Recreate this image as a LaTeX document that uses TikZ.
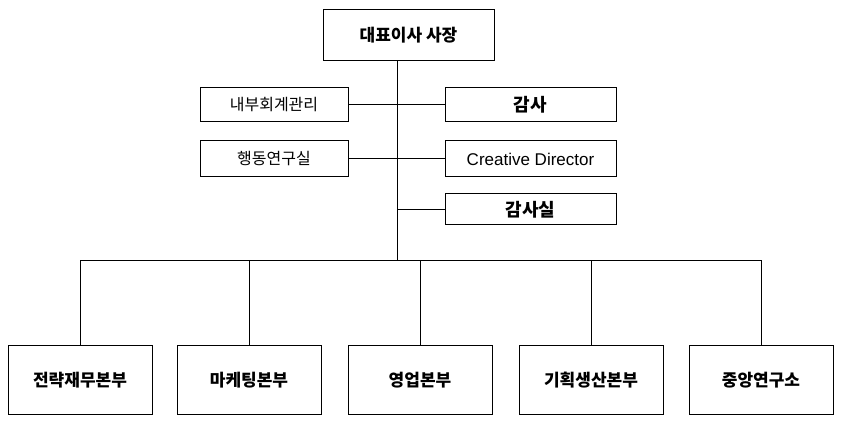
\documentclass[tikz,border=0pt]{standalone}
\usepackage{fontspec}
\newfontfamily\kor{Noto Sans CJK KR}
\setmainfont{Liberation Sans}
\begin{document}
\begin{tikzpicture}[x=1pt,y=-1pt,
  box/.style={draw, line width=1pt, inner sep=0pt, font=\kor\bfseries\fontsize{16}{18}\selectfont},
  line/.style={line width=1pt}]
\useasboundingbox (0,0) rectangle (846,422);
\node[box, minimum width=171pt, minimum height=51pt, font=\kor\bfseries\fontsize{17}{19}\selectfont] (ceo) at (408.5,35.5) {대표이사 사장};

\node[box, minimum width=148pt, minimum height=34pt, font=\kor\fontsize{16}{18}\selectfont] (acct) at (274,105) {내부회계관리};
\node[box, minimum width=148pt, minimum height=36pt, font=\kor\fontsize{16}{18}\selectfont] (behav) at (274,159) {행동연구실};
\node[box, minimum width=171pt, minimum height=34pt, font=\kor\bfseries\fontsize{18}{20}\selectfont] (audit) at (530.5,105) {감사};
\node[box, minimum width=171pt, minimum height=36pt, font=\fontsize{17}{19}\selectfont] (cd) at (530.5,159) {Creative Director};
\node[box, minimum width=171pt, minimum height=31pt, font=\kor\bfseries\fontsize{18}{20}\selectfont] (office) at (530.5,209.5) {감사실};

\coordinate (bar) at (397,260);
\draw[line] (ceo.south -| bar) -- (bar);
\draw[line] (acct) -- (audit);
\draw[line] (behav) -- (cd);
\draw[line] (office.west) -- (office.west -| bar);

\foreach \name/\cx/\txt in {strat/80/전략재무본부, mkt/249/마케팅본부, sales/420/영업본부, plan/591/기획생산본부, lab/761/중앙연구소}{
  \node[box, minimum width=144pt, minimum height=69pt, font=\kor\bfseries\fontsize{17}{19}\selectfont] (\name) at (\cx,380) {\txt};
  \draw[line] (\name.north) -- (\cx,260);
}
\draw[line] (strat.north |- bar) -- (lab.north |- bar);
\end{tikzpicture}
\end{document}
